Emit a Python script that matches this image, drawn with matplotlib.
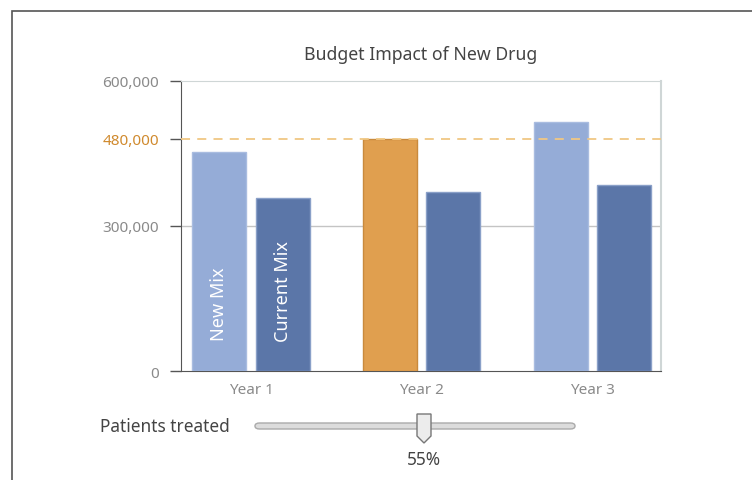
import matplotlib
matplotlib.use('Agg')
import matplotlib.pyplot as plt
from matplotlib.patches import FancyBboxPatch, Polygon, Rectangle

# ---- DATA ----
years = ['Year 1', 'Year 2', 'Year 3']
new_mix = [453000, 480000, 515000]
current_mix = [358000, 370000, 385000]
y_ticks = [0, 300000, 480000, 600000]
y_labels = ['0', '300,000', '480,000', '600,000']
threshold = 480000
patients_pct = 55

# ---- STYLE ----
plt.rcParams['font.family'] = ['Noto Sans', 'DejaVu Sans']
W, H = 752, 481
light_blue = '#95acd7'
dark_blue = '#5b76a8'
orange = '#e09f4f'
gray_txt = '#8a8a8a'

fig = plt.figure(figsize=(W / 100, H / 100), dpi=100)

# outer frame (partly cropped on the right/bottom)
fig.add_artist(Rectangle((12 / W, -0.1), 1.2, 1 - 12 / H + 0.1, transform=fig.transFigure,
                         fill=False, edgecolor='#555555', linewidth=1.2))

ax = fig.add_axes([181 / W, 1 - 372 / H, 480 / W, 290 / H])
x = list(range(len(years)))
off, bw = 0.185, 0.316

for i in x:
    col = orange if new_mix[i] == threshold else light_blue
    edge = '#c98a3d' if col == orange else '#a9bce0'
    ax.bar(i - off, new_mix[i], width=bw, color=col, edgecolor=edge, linewidth=1, zorder=3)
    ax.bar(i + off, current_mix[i], width=bw, color=dark_blue, edgecolor='#8aa0c8', linewidth=1, zorder=3)

ax.text(0 - off, 64000, 'New Mix', rotation=90, color='white', fontsize=13,
        ha='center', va='bottom', zorder=4)
ax.text(0 + off, 62000, 'Current Mix', rotation=90, color='white', fontsize=13,
        ha='center', va='bottom', zorder=4)

ax.axhline(threshold, color='#f0c783', linestyle=(0, (5, 4)), linewidth=1.3, zorder=4)
ax.axhline(300000, color='#c4c4c4', linewidth=1, zorder=1)

ax.set_xlim(-0.41, 2.4)
ax.set_ylim(0, 600000)
ax.set_yticks(y_ticks)
ax.set_yticklabels(y_labels)
for lbl, v in zip(ax.get_yticklabels(), y_ticks):
    lbl.set_color('#d08a2e' if v == threshold else gray_txt)
ax.set_xticks(x)
ax.set_xticklabels(years)
ax.tick_params(axis='y', length=8, width=1, color='#555555', labelsize=11, pad=8)
ax.tick_params(axis='x', length=0, labelsize=11, labelcolor=gray_txt, pad=8)

ax.spines['left'].set_color('#555555')
ax.spines['bottom'].set_color('#555555')
ax.spines['top'].set_color('#cfd6d6')
ax.spines['right'].set_color('#cfd6d6')
ax.spines['right'].set_linewidth(1.5)

fig.text(421 / W, 1 - 55 / H, 'Budget Impact of New Drug', ha='center', va='center',
         fontsize=12.7, color='#444444')

# ---- SLIDER ----
fig.text(100 / W, 1 - 427 / H, 'Patients treated', ha='left', va='center',
         fontsize=12.4, color='#444444')
track_x0, track_x1, track_y = 255, 575, 427
fig.add_artist(FancyBboxPatch((track_x0 / W, (H - track_y - 3) / H), (track_x1 - track_x0) / W, 6 / H,
                              boxstyle='round,pad=0,rounding_size=0.006', transform=fig.transFigure,
                              facecolor='#dcdcdc', edgecolor='#aaaaaa', linewidth=1))
tx = 424
thumb = [(tx - 7, H - 415), (tx + 7, H - 415), (tx + 7, H - 437), (tx, H - 444), (tx - 7, H - 437)]
fig.add_artist(Polygon([(px / W, py / H) for px, py in thumb], closed=True, transform=fig.transFigure,
                       facecolor='#ececec', edgecolor='#777777', linewidth=1))
fig.text(tx / W, 1 - 460 / H, f'{patients_pct}%', ha='center', va='center',
         fontsize=12.4, color='#444444')

fig.savefig('out.png', dpi=100)
